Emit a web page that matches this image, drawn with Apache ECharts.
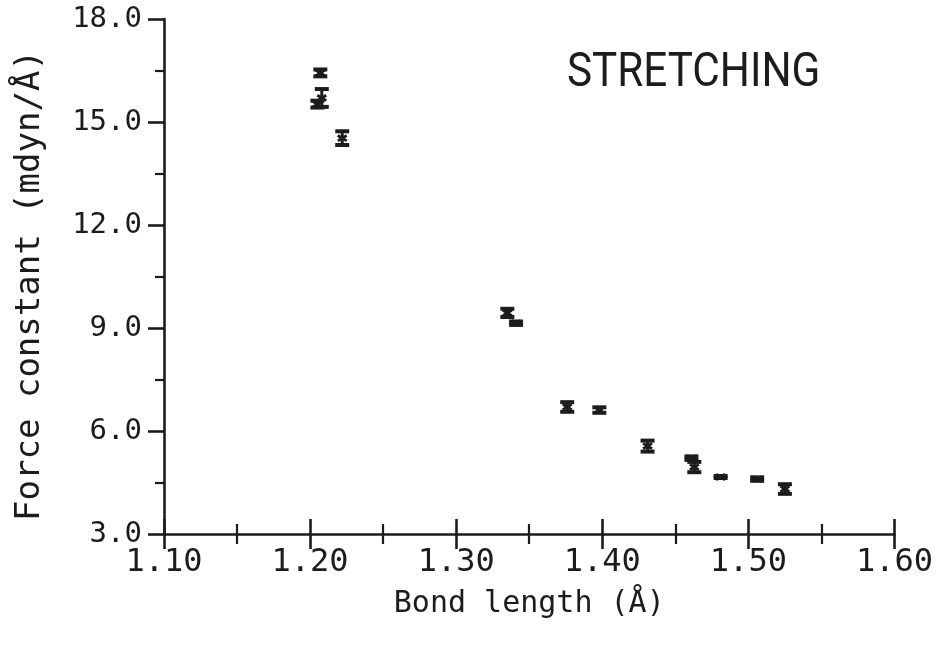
<!DOCTYPE html>
<html>
<head>
<meta charset="utf-8">
<script src="https://cdn.jsdelivr.net/npm/echarts@6/dist/echarts.min.js"></script>
<style>
html,body{margin:0;padding:0;background:#fff;}
#chart{width:936px;height:645px;}
</style>
</head>
<body>
<div id="chart"></div>
<script>
// Data
var bondLength = [1.207, 1.208, 1.205, 1.222, 1.335, 1.341, 1.376, 1.398, 1.431, 1.461, 1.463, 1.481, 1.506, 1.525];
var forceConst = [16.43, 15.70, 15.52, 14.53, 9.44, 9.14, 6.70, 6.61, 5.56, 5.21, 4.95, 4.66, 4.60, 4.31];
var errHalf    = [0.10, 0.26, 0.10, 0.20, 0.12, 0.05, 0.14, 0.08, 0.16, 0.05, 0.15, 0.03, 0.05, 0.14];
var xTickMin = 1.10, xTickMax = 1.60, xTickStep = 0.10;
var yTickMin = 3.0, yTickMax = 18.0, yTickStep = 3.0;
var panelLabel = 'STRETCHING';
var xTitle = 'Bond length (Å)';
var yTitle = 'Force constant (mdyn/Å)';

var ink = '#1c1c1c';
var mono = '"DejaVu Sans Mono", "Liberation Mono", monospace';

var pts = bondLength.map(function (x, i) {
  return [x, forceConst[i], forceConst[i] - errHalf[i], forceConst[i] + errHalf[i]];
});

var chart = echarts.init(document.getElementById('chart'), null, {renderer: 'canvas'});

function xAxisBase(extra) {
  var a = {
    type: 'value', position: 'bottom',
    min: xTickMin, max: xTickMax, interval: xTickStep,
    splitLine: {show: false}
  };
  for (var k in extra) a[k] = extra[k];
  return a;
}

var option = {
  backgroundColor: '#ffffff',
  animation: false,
  grid: {left: 164, right: 41, top: 19, bottom: 111, containLabel: false},
  xAxis: [
    xAxisBase({
      name: xTitle, nameLocation: 'middle', nameGap: 55,
      nameTextStyle: {fontFamily: mono, fontSize: 30, color: ink},
      axisLine: {show: true, onZero: false, lineStyle: {color: ink, width: 2.6}},
      axisTick: {show: true, inside: false, length: 15, lineStyle: {color: ink, width: 2.6}},
      minorTick: {show: true, splitNumber: 2, length: 10, lineStyle: {color: ink, width: 2.2}},
      axisLabel: {margin: 13, fontFamily: mono, fontSize: 32, color: ink,
        formatter: function (v) { return v.toFixed(2); }}
    }),
    xAxisBase({
      axisLine: {show: false},
      axisTick: {show: true, inside: true, length: 15, lineStyle: {color: ink, width: 2.6}},
      minorTick: {show: true, splitNumber: 2, length: 10, lineStyle: {color: ink, width: 2.2}},
      axisLabel: {show: false}
    })
  ],
  yAxis: {
    type: 'value',
    min: yTickMin, max: yTickMax, interval: yTickStep,
    name: yTitle, nameLocation: 'middle', nameGap: 117,
    nameTextStyle: {fontFamily: mono, fontSize: 34, color: ink, padding: [0, 18, 0, 0]},
    axisLine: {show: true, onZero: false, lineStyle: {color: ink, width: 2.6}},
    axisTick: {show: true, inside: false, length: 16, lineStyle: {color: ink, width: 2.6}},
    minorTick: {show: true, splitNumber: 2, length: 9, lineStyle: {color: ink, width: 2.2}},
    splitLine: {show: false},
    axisLabel: {margin: 22, fontFamily: mono, fontSize: 29, color: ink,
      formatter: function (v) { return v.toFixed(1); }}
  },
  graphic: [{
    type: 'text', x: 567, y: 50, scaleX: 0.88,
    style: {text: panelLabel, fontFamily: '"Liberation Sans Narrow", "Roboto", sans-serif',
      fontSize: 48, fill: ink, verticalAlign: 'top', align: 'left'}
  }],
  series: [{
    type: 'custom',
    xAxisIndex: 0,
    data: pts,
    encode: {x: 0, y: [1, 2, 3]},
    renderItem: function (params, api) {
      var x = api.value(0);
      var c = api.coord([x, api.value(1)]);
      var lo = api.coord([x, api.value(2)]);
      var hi = api.coord([x, api.value(3)]);
      var cap = 7, m = 4.5;
      var st = {stroke: ink, lineWidth: 4};
      return {
        type: 'group',
        children: [
          {type: 'line', shape: {x1: lo[0], y1: lo[1], x2: hi[0], y2: hi[1]}, style: {stroke: ink, lineWidth: 3}},
          {type: 'line', shape: {x1: lo[0] - cap, y1: lo[1], x2: lo[0] + cap, y2: lo[1]}, style: st},
          {type: 'line', shape: {x1: hi[0] - cap, y1: hi[1], x2: hi[0] + cap, y2: hi[1]}, style: st},
          {type: 'line', shape: {x1: c[0] - m, y1: c[1] - m * 0.6, x2: c[0] + m, y2: c[1] + m * 0.6}, style: {stroke: ink, lineWidth: 2.8}},
          {type: 'line', shape: {x1: c[0] - m, y1: c[1] + m * 0.6, x2: c[0] + m, y2: c[1] - m * 0.6}, style: {stroke: ink, lineWidth: 2.8}}
        ]
      };
    }
  }]
};
chart.setOption(option);
</script>
</body>
</html>
